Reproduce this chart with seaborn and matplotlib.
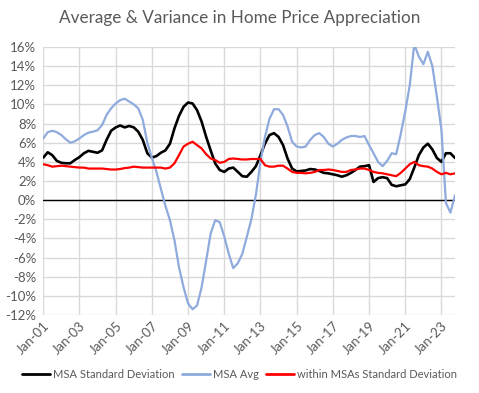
import pandas as pd
import matplotlib
matplotlib.use("Agg")
import matplotlib.pyplot as plt
import matplotlib.dates as mdates
import seaborn as sns

# ===== DATA (quarterly, % yoy) =====
dates = pd.date_range("2001-01-01", "2023-10-01", freq="QS")

msa_sd = [4.45, 5.0, 4.7, 4.1, 3.9, 3.85, 3.85, 4.2, 4.5, 4.9, 5.15, 5.05,
          4.95, 5.2, 6.3, 7.25, 7.6, 7.8, 7.6, 7.75, 7.6, 7.15, 6.3, 4.9,
          4.45, 4.6, 4.95, 5.2, 5.9, 7.5, 8.8, 9.75, 10.2, 10.1, 9.4, 8.2,
          6.6, 5.2, 3.85, 3.15, 2.95, 3.3, 3.4, 2.95, 2.5, 2.45, 2.95, 3.55,
          4.7, 5.9, 6.8, 7.0, 6.6, 5.75, 4.35, 3.3, 3.0, 3.05, 3.1, 3.25,
          3.2, 3.05, 2.85, 2.8, 2.7, 2.6, 2.45, 2.6, 2.85, 3.15, 3.5, 3.55,
          3.65, 1.9, 2.3, 2.4, 2.3, 1.6, 1.45, 1.55, 1.65, 2.2, 3.4, 4.7,
          5.5, 5.9, 5.3, 4.4, 4.0, 4.9, 4.9, 4.4]

msa_avg = [6.45, 7.1, 7.25, 7.1, 6.8, 6.35, 6.0, 6.15, 6.45, 6.8, 7.05, 7.15,
           7.3, 7.85, 8.9, 9.6, 10.1, 10.45, 10.6, 10.3, 10.0, 9.6, 8.4, 6.0,
           4.4, 3.0, 1.2, -0.6, -2.1, -4.2, -7.0, -9.1, -10.8, -11.4, -11.0, -9.1,
           -6.3, -3.5, -2.1, -2.3, -3.8, -5.6, -7.1, -6.6, -5.6, -3.8, -2.0, 0.6,
           4.0, 6.6, 8.5, 9.5, 9.5, 8.9, 7.7, 6.1, 5.6, 5.5, 5.6, 6.3,
           6.8, 7.0, 6.6, 5.9, 5.6, 5.9, 6.3, 6.55, 6.7, 6.7, 6.6, 6.7,
           5.75, 4.9, 4.0, 3.55, 4.1, 4.9, 4.8, 6.9, 9.3, 12.0, 16.3, 15.0,
           14.2, 15.5, 14.0, 10.8, 7.3, -0.3, -1.3, 0.5]

within_sd = [3.75, 3.65, 3.5, 3.55, 3.6, 3.55, 3.5, 3.45, 3.4, 3.4, 3.3, 3.3,
             3.3, 3.3, 3.25, 3.2, 3.2, 3.25, 3.35, 3.4, 3.5, 3.45, 3.4, 3.4,
             3.4, 3.4, 3.4, 3.3, 3.4, 3.85, 4.7, 5.6, 5.9, 6.1, 5.75, 5.4,
             4.8, 4.35, 4.2, 3.9, 4.0, 4.3, 4.35, 4.3, 4.25, 4.25, 4.3, 4.3,
             4.3, 3.65, 3.5, 3.5, 3.6, 3.6, 3.3, 2.95, 2.85, 2.85, 2.8, 2.85,
             2.95, 3.15, 3.15, 3.2, 3.15, 3.05, 2.95, 2.95, 3.15, 3.2, 3.3, 3.3,
             3.15, 2.95, 2.85, 2.8, 2.7, 2.6, 2.5, 2.85, 3.3, 3.75, 4.0, 3.65,
             3.55, 3.5, 3.3, 2.95, 2.7, 2.85, 2.7, 2.8]

series_names = ["MSA Standard Deviation", "MSA Avg", "within MSAs Standard Deviation"]
series_colors = ["#000000", "#8FAADC", "#FF0000"]
yticks = list(range(-12, 17, 2))
xtick_dates = pd.date_range("2001-01-01", "2023-01-01", freq="2YS")

# ===== BUILD LONG TABLE =====
df = pd.concat([
    pd.DataFrame({"date": dates, "value": vals, "series": name})
    for name, vals in zip(series_names, [msa_sd, msa_avg, within_sd])
])

# ===== PLOT =====
sns.set_style("white")
plt.rcParams["font.family"] = ["Lato", "DejaVu Sans"]
grey = "#595959"

fig = plt.figure(figsize=(4.79, 3.93), dpi=100)
ax = fig.add_axes([43.3 / 479, 78 / 393, (455 - 43.3) / 479, 268 / 393])

sns.lineplot(data=df, x="date", y="value", hue="series", hue_order=series_names,
             palette=series_colors, linewidth=1.6, ax=ax, legend=False)
ax.lines[0].set_linewidth(1.9)

ax.axhline(0, color="black", linewidth=1.0, zorder=1)
ax.set_ylim(-12, 16)
ax.set_xlim(dates[0], dates[-1])
ax.set_yticks(yticks)
ax.set_yticklabels([f"{v}%" for v in yticks])
ax.set_xticks(xtick_dates)
ax.xaxis.set_major_formatter(mdates.DateFormatter("%b-%y"))
ax.grid(True, color="#D9D9D9", linewidth=1.0)
ax.set_axisbelow(True)
for s in ax.spines.values():
    s.set_visible(False)
ax.tick_params(axis="both", length=0, colors=grey, labelsize=9.5)
ax.tick_params(axis="y", pad=5)
plt.setp(ax.get_xticklabels(), rotation=45, ha="right", rotation_mode="anchor")
ax.set_xlabel("")
ax.set_ylabel("")

fig.suptitle("Average & Variance in Home Price Appreciation", x=0.5, y=0.975,
             fontsize=12.3, color=grey)

handles = [plt.Line2D([], [], color=c, linewidth=2) for c in series_colors]
fig.legend(handles, series_names, loc="center", bbox_to_anchor=(0.5, 1 - 374 / 393),
           ncol=3, frameon=False, fontsize=8, handlelength=2.5,
           handletextpad=0.28, columnspacing=0.65, labelcolor=grey)

fig.savefig("out.png", dpi=100)
